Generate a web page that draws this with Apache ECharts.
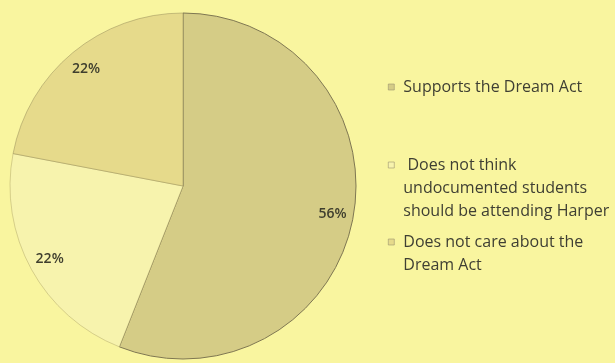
<!DOCTYPE html>
<html>
<head>
<meta charset="utf-8">
<script src="https://cdn.jsdelivr.net/npm/echarts@6/dist/echarts.min.js"></script>
<style>
  html, body { margin: 0; padding: 0; background: #f9f59f; }
  #chart { width: 615px; height: 363px; }
</style>
</head>
<body>
<div id="chart"></div>
<script>
var categories = [
    'Supports the Dream Act',
    ' Does not think\nundocumented students\nshould be attending Harper',
    'Does not care about the\nDream Act'
];
var shares = [56, 22, 22];
var sliceColors = ['#d5cc86', '#f7f3ad', '#e6da8b'];
var borderColors = ['#7f7752', 'rgba(170,160,100,0.45)', 'rgba(150,140,90,0.5)'];
var legendFirstLineY = [87, 165, 242];

var CX = 183, CY = 186, R = 173;
var LINE_H = 23;
var LABEL_PUSH = 1.7;

var chart = echarts.init(document.getElementById('chart'), null, { renderer: 'canvas' });

// one legend per entry; blank lines in front keep the icon on the first text line
var legends = categories.map(function (name, i) {
    var lines = name.split('\n').length;
    var lead = new Array(lines).join('\n');
    return {
        orient: 'vertical',
        left: 388,
        top: legendFirstLineY[i] - LINE_H / 2 - (lines - 1) * LINE_H,
        padding: 0,
        itemWidth: 6,
        itemHeight: 6,
        icon: 'rect',
        selectedMode: false,
        data: [name],
        formatter: function (n) { return lead + n; },
        itemStyle: { borderColor: '#9c9470', borderWidth: 0.6 },
        textStyle: {
            fontFamily: 'Open Sans',
            fontSize: 16,
            color: '#3f3f33',
            lineHeight: LINE_H,
            padding: [0, 0, 0, 4]
        }
    };
});

chart.setOption({
    backgroundColor: '#f9f59f',
    animation: false,
    legend: legends,
    series: [{
        type: 'pie',
        center: [CX, CY],
        radius: R,
        startAngle: 90,
        clockwise: true,
        avoidLabelOverlap: false,
        data: shares.map(function (v, i) {
            return {
                name: categories[i],
                value: v,
                itemStyle: {
                    color: sliceColors[i],
                    borderColor: borderColors[i],
                    borderWidth: 1
                }
            };
        }),
        label: {
            show: true,
            position: 'inside',
            formatter: '{c}%',
            fontFamily: 'Open Sans',
            fontSize: 14,
            fontWeight: 600,
            color: '#3f3e2e'
        },
        labelLine: { show: false },
        labelLayout: function (p) {
            var lx = p.labelRect.x + p.labelRect.width / 2;
            var ly = p.labelRect.y + p.labelRect.height / 2;
            return {
                x: CX + (lx - CX) * LABEL_PUSH,
                y: CY + (ly - CY) * LABEL_PUSH,
                align: 'center',
                verticalAlign: 'middle'
            };
        },
        emphasis: { disabled: true }
    }]
});
</script>
</body>
</html>
